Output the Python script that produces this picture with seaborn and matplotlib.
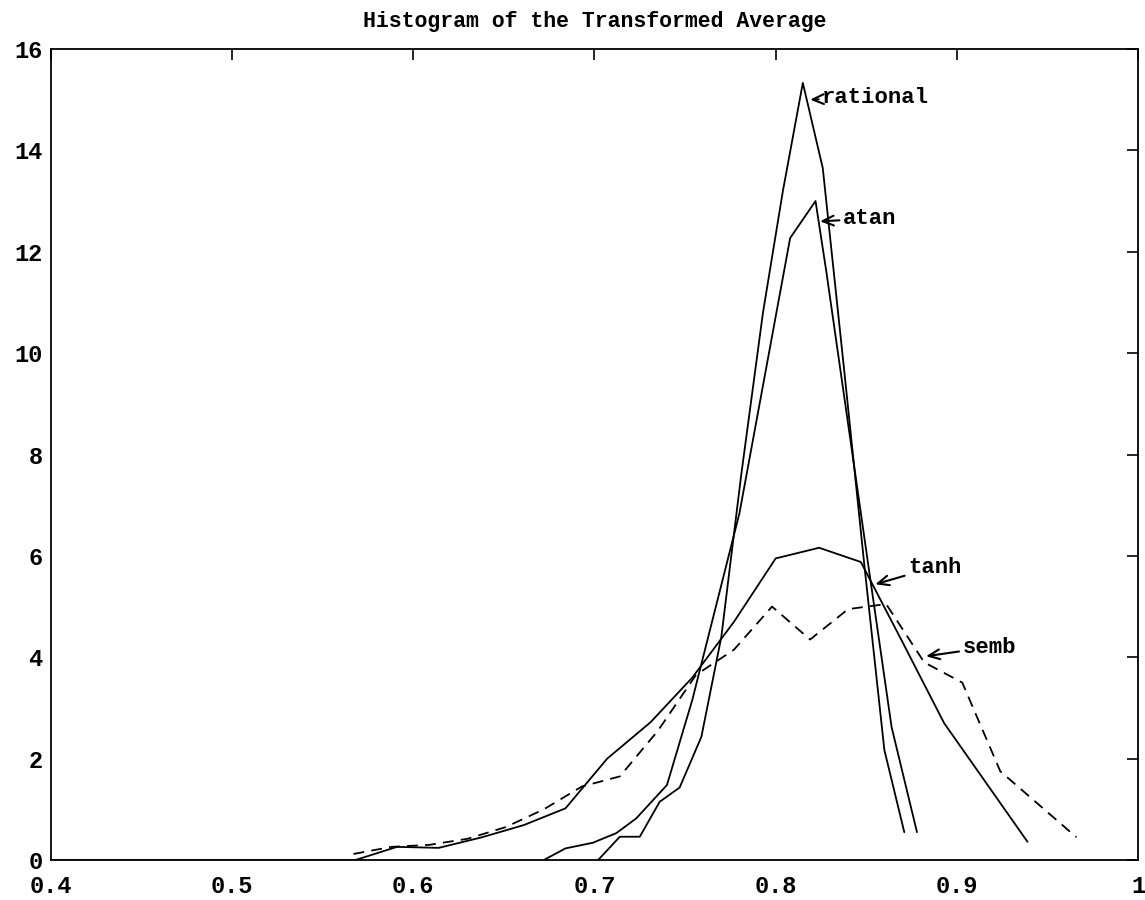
import matplotlib
matplotlib.use("Agg")
import matplotlib.pyplot as plt
import seaborn as sns
import pandas as pd

sns.set_theme(style="white")
plt.rcParams['font.family'] = ['Liberation Mono', 'DejaVu Sans Mono']
plt.rcParams['text.color'] = 'black'

# ---- data ----
rational_x = [0.702, 0.714, 0.725, 0.736, 0.747, 0.759, 0.770, 0.781, 0.793, 0.804,
              0.815, 0.826, 0.838, 0.849, 0.860, 0.871]
rational_y = [0.0, 0.46, 0.46, 1.15, 1.43, 2.43, 4.4, 7.6, 10.8, 13.2,
              15.33, 13.65, 9.6, 5.8, 2.17, 0.55]

atan_x = [0.672, 0.684, 0.699, 0.712, 0.723, 0.740, 0.754, 0.780, 0.808, 0.822,
          0.828, 0.840, 0.852, 0.864, 0.878]
atan_y = [0.0, 0.23, 0.34, 0.53, 0.82, 1.48, 3.16, 6.84, 12.27, 13.0,
          11.6, 8.6, 5.6, 2.62, 0.55]

tanh_x = [0.568, 0.591, 0.614, 0.638, 0.661, 0.684, 0.707, 0.731, 0.754, 0.777,
          0.800, 0.824, 0.847, 0.870, 0.893, 0.916, 0.939]
tanh_y = [0.0, 0.26, 0.24, 0.45, 0.69, 1.02, 2.0, 2.72, 3.6, 4.7,
          5.95, 6.16, 5.88, 4.3, 2.7, 1.53, 0.36]

semb_x = [0.567, 0.588, 0.609, 0.630, 0.651, 0.672, 0.693, 0.714, 0.735, 0.756,
          0.777, 0.798, 0.819, 0.840, 0.861, 0.882, 0.903, 0.924, 0.945, 0.966]
semb_y = [0.12, 0.26, 0.30, 0.42, 0.65, 1.0, 1.45, 1.65, 2.55, 3.65,
          4.15, 5.0, 4.35, 4.95, 5.05, 3.9, 3.5, 1.75, 1.1, 0.45]

# flat zero baseline portion of the histograms
base_x = [0.4, 0.57]
base_y = [0.0, 0.0]

x_ticks = [0.4, 0.5, 0.6, 0.7, 0.8, 0.9, 1.0]
x_tick_labels = ["0.4", "0.5", "0.6", "0.7", "0.8", "0.9", "1"]
y_ticks = [0, 2, 4, 6, 8, 10, 12, 14, 16]

labels = ["rational", "atan", "tanh", "semb"]
label_tip = [(0.819, 15.0), (0.8245, 12.6), (0.855, 5.44), (0.883, 4.02)]
label_text = [(0.8255, 15.05), (0.837, 12.65), (0.873, 5.78), (0.903, 4.2)]

title = "Histogram of the Transformed Average"

# ---- figure ----
fig = plt.figure(figsize=(11.45, 9.0), dpi=100)
ax = fig.add_axes([0.0445, 0.0444, 0.9494, 0.9012])

lw = 1.3
sns.lineplot(x=base_x, y=base_y, ax=ax, color="black", lw=lw, sort=False)
sns.lineplot(x=rational_x, y=rational_y, ax=ax, color="black", lw=lw, sort=False)
sns.lineplot(x=atan_x, y=atan_y, ax=ax, color="black", lw=lw, sort=False)
sns.lineplot(x=tanh_x, y=tanh_y, ax=ax, color="black", lw=lw, sort=False)
sns.lineplot(x=semb_x, y=semb_y, ax=ax, color="black", lw=lw, sort=False,
             linestyle=(0, (6, 4)))

for lab, tip, txt in zip(labels, label_tip, label_text):
    ax.annotate(lab, xy=tip, xytext=txt, textcoords="data",
                fontsize=16, fontweight="bold", color="black",
                va="center", ha="left",
                arrowprops=dict(arrowstyle="->,head_length=0.5,head_width=0.22",
                                color="black", lw=1.5,
                                shrinkA=0, shrinkB=0))

ax.set_xlim(0.4, 1.0)
ax.set_ylim(0, 16)
ax.set_xticks(x_ticks)
ax.set_xticklabels(x_tick_labels)
ax.set_yticks(y_ticks)
ax.tick_params(direction="in", length=8, width=1.2, top=True, right=True,
               labelsize=17, colors="black")
ax.tick_params(axis="x", pad=11)
ax.tick_params(axis="y", pad=6)
for lab in ax.get_xticklabels() + ax.get_yticklabels():
    lab.set_fontweight("bold")
for sp in ax.spines.values():
    sp.set_color("black")
    sp.set_linewidth(1.3)
ax.set_title(title, fontsize=15.5, fontweight="bold", pad=16, color="black")
ax.set_xlabel("")
ax.set_ylabel("")
ax.grid(False)

fig.savefig("out.png", dpi=100, facecolor="white")
